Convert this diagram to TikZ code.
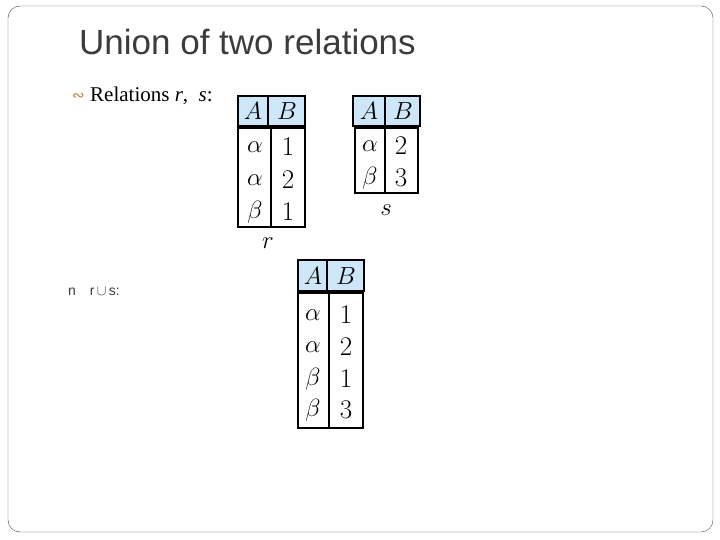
\documentclass[tikz,border=0pt]{standalone}
\usepackage{fontspec}
\usepackage{amsmath}
\usepackage{amssymb}
\newfontfamily\symfont{DejaVu Sans}
\newfontfamily\arialfont{Liberation Sans}
\newfontfamily\timesfont{Liberation Serif}
\definecolor{headblue}{RGB}{205,230,248}
\definecolor{textgray}{RGB}{60,60,60}
\begin{document}
\begin{tikzpicture}[x=1pt,y=-1pt]
\tikzstyle{every node}+=[inner sep=0pt]
\tikzstyle{cell}=[font=\fontsize{27}{29}\selectfont]
\tikzstyle{grid}=[black,line width=1.6pt]
\useasboundingbox (0,0) rectangle (720,540);
\draw [black!70,rounded corners=12pt] (8,6) rectangle (713,532);
\node (title) [anchor=west,font=\arialfont\fontsize{35}{38}\selectfont,text=textgray] at (79,42) {Union of two relations};
\node (bul) [anchor=west,text=brown,font=\symfont\fontsize{15}{16}\selectfont] at (72,97) {∾};
\node (rel) [anchor=west,font=\timesfont\fontsize{21}{24}\selectfont] at (90,96) {Relations \textit{r}, \ \textit{s}:};
\node (uni) [anchor=west,font=\arialfont\fontsize{14}{15}\selectfont,text=textgray] at (68,292) {n\quad r\,$\cup$\,s:};
% table r
\fill [headblue] (238,96) rectangle (305,126);
\draw [grid] (238,96) rectangle (305,126);
\draw [grid] (268,96) -- (268,126);
\draw [grid] (238,128) rectangle (305,227);
\draw [grid] (271,128) -- (271,227);
\node (rA) [cell] at (253,111) {$A$};
\node (rB) [cell] at (287,111) {$B$};
\node (r1) [cell] at (255,147) {$\alpha$};
\node (r2) [cell] at (288,147) {1};
\node (r3) [cell] at (255,180) {$\alpha$};
\node (r4) [cell] at (288,180) {2};
\node (r5) [cell] at (255,212) {$\beta$};
\node (r6) [cell] at (288,212) {1};
\node (rl) [cell] at (268,243) {$r$};
% table s
\fill [headblue] (353,96) rectangle (420,126);
\draw [grid] (353,96) rectangle (420,126);
\draw [grid] (385,96) -- (385,126);
\draw [grid] (355,128) rectangle (418,193);
\draw [grid] (385,128) -- (385,193);
\node (sA) [cell] at (369,111) {$A$};
\node (sB) [cell] at (403,111) {$B$};
\node (s1) [cell] at (370,146) {$\alpha$};
\node (s2) [cell] at (401,146) {2};
\node (s3) [cell] at (370,178) {$\beta$};
\node (s4) [cell] at (401,178) {3};
\node (sl) [cell] at (386,210) {$s$};
% table r union s
\fill [headblue] (298,260) rectangle (364,291);
\draw [grid] (298,260) rectangle (364,291);
\draw [grid] (327,260) -- (327,291);
\draw [grid] (298,293) rectangle (363,428);
\draw [grid] (329,293) -- (329,428);
\node (uA) [cell] at (313,276) {$A$};
\node (uB) [cell] at (346,276) {$B$};
\node (u1) [cell] at (313,315) {$\alpha$};
\node (u2) [cell] at (346,315) {1};
\node (u3) [cell] at (313,347) {$\alpha$};
\node (u4) [cell] at (346,347) {2};
\node (u5) [cell] at (313,379) {$\beta$};
\node (u6) [cell] at (346,379) {1};
\node (u7) [cell] at (313,410) {$\beta$};
\node (u8) [cell] at (346,410) {3};
\end{tikzpicture}
\end{document}
